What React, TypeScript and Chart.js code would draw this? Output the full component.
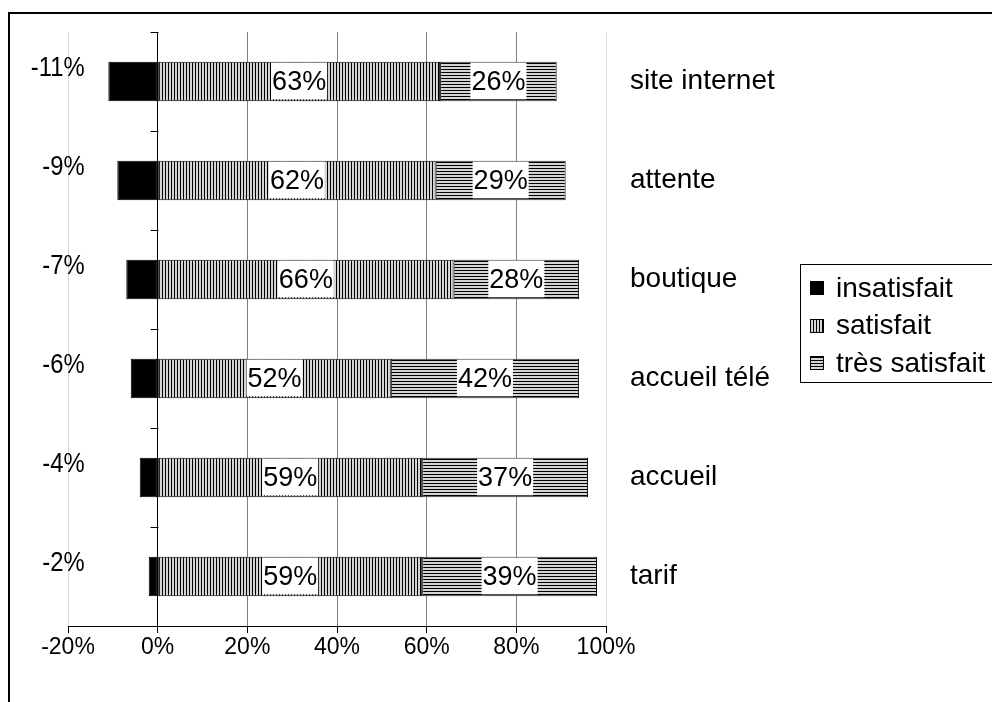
import React, { useEffect, useRef } from "react";
import { Chart, registerables } from "chart.js";
Chart.register(...registerables);

const categories = ["site internet", "attente", "boutique", "accueil télé", "accueil", "tarif"];
const insatisfait = [-11, -9, -7, -6, -4, -2];
const satisfait = [63, 62, 66, 52, 59, 59];
const tresSatisfait = [26, 29, 28, 42, 37, 39];
const seriesNames = ["insatisfait", "satisfait", "très satisfait"];
const xTicks = [-20, 0, 20, 40, 60, 80, 100];

const FONT = "'Liberation Sans', Arial, sans-serif";

function makePattern(dir: "v" | "h"): CanvasPattern {
  const c = document.createElement("canvas");
  c.width = 3;
  c.height = 3;
  const g = c.getContext("2d")!;
  g.fillStyle = "#d4d4d4";
  g.fillRect(0, 0, 3, 3);
  g.fillStyle = "#000";
  if (dir === "v") g.fillRect(0, 0, 1, 3);
  else g.fillRect(0, 0, 3, 1);
  return g.createPattern(c, "repeat")!;
}

export default function App() {
  const ref = useRef<HTMLCanvasElement | null>(null);
  useEffect(() => {
    document.body.style.margin = "0";
    const canvas = ref.current!;
    const vPat = makePattern("v");
    const hPat = makePattern("h");
    const fills: (string | CanvasPattern)[] = ["#000", vPat, hPat];

    const overlay = {
      id: "overlay",
      afterDatasetsDraw(chart: any) {
        const ctx = chart.ctx as CanvasRenderingContext2D;
        const xs = chart.scales.x;
        const ys = chart.scales.y;
        ctx.save();
        // tick marks on the 0% axis at category boundaries
        const x0 = Math.round(xs.getPixelForValue(0)) + 0.5;
        ctx.strokeStyle = "#000";
        ctx.lineWidth = 1;
        for (let i = 0; i <= categories.length; i++) {
          const yy = Math.round(ys.getPixelForValue(i - 0.5)) + 0.5;
          ctx.beginPath();
          ctx.moveTo(x0 - 8, yy);
          ctx.lineTo(x0, yy);
          ctx.stroke();
        }
        // labels inside satisfait / très satisfait
        ctx.textAlign = "center";
        ctx.textBaseline = "middle";
        ctx.font = `27px ${FONT}`;
        [1, 2].forEach((di) => {
          const vals = di === 1 ? satisfait : tresSatisfait;
          chart.getDatasetMeta(di).data.forEach((bar: any, i: number) => {
            const p = bar.getProps(["x", "y", "base", "height"], true);
            const cx = (p.x + p.base) / 2;
            const t = vals[i] + "%";
            const w = ctx.measureText(t).width;
            ctx.fillStyle = "#fff";
            ctx.fillRect(cx - w / 2 - 1, p.y - p.height / 2 + 1, w + 2, p.height - 3);
            ctx.fillStyle = "#000";
            ctx.fillText(t, cx, p.y + 1);
          });
        });
        // negative labels (slightly condensed)
        ctx.textAlign = "right";
        ctx.font = `28px ${FONT}`;
        const xr = xs.getPixelForValue(-16.3);
        chart.getDatasetMeta(0).data.forEach((bar: any, i: number) => {
          ctx.save();
          ctx.translate(xr, bar.y - 13);
          ctx.scale(0.85, 1);
          ctx.fillText(insatisfait[i] + "%", 0, 0);
          ctx.restore();
        });
        // legend
        ctx.lineWidth = 1;
        ctx.strokeStyle = "#000";
        ctx.strokeRect(800.5, 264.5, 300, 118);
        ctx.textAlign = "left";
        ctx.font = `28px ${FONT}`;
        seriesNames.forEach((n, i) => {
          const cy = 288 + i * 37.5;
          ctx.fillStyle = fills[i] as any;
          ctx.fillRect(810, Math.round(cy - 7), 14, 14);
          ctx.strokeRect(810.5, Math.round(cy - 7) + 0.5, 13, 13);
          ctx.fillStyle = "#000";
          ctx.fillText(n, 836, cy + 1);
        });
        // outer border
        ctx.lineWidth = 2;
        ctx.strokeRect(9, 13, 1000, 1000);
        ctx.restore();
      },
    };

    const chart = new Chart(canvas, {
      type: "bar",
      data: {
        labels: categories,
        datasets: [insatisfait, satisfait, tresSatisfait].map((d, i) => ({
          label: seriesNames[i],
          data: d,
          backgroundColor: fills[i] as any,
          borderColor: "#000",
          borderWidth: 1,
          borderSkipped: false,
          categoryPercentage: 0.4,
          barPercentage: 1,
        })),
      },
      options: {
        indexAxis: "y",
        responsive: false,
        animation: false,
        devicePixelRatio: 1,
        layout: { padding: { left: 68, top: 32, right: 0, bottom: 0 } },
        scales: {
          x: {
            stacked: true,
            min: -20,
            max: 100,
            afterBuildTicks: (s: any) => {
              s.ticks = xTicks.map((v) => ({ value: v }));
            },
            afterFit: (s: any) => {
              s.height = 76;
              s.paddingLeft = 0;
              s.paddingRight = 0;
            },
            ticks: {
              callback: (v: any) => v + "%",
              font: { size: 23, family: FONT },
              color: "#000",
              padding: 1,
              maxRotation: 0,
              autoSkip: false,
            },
            grid: {
              color: (c: any) =>
                c.tick && c.tick.value === 0
                  ? "#000"
                  : c.tick && (c.tick.value === -20 || c.tick.value === 100)
                  ? "#d9d9d9"
                  : "#808080",
              tickColor: "#000",
              tickLength: 7,
              lineWidth: 1,
            },
            border: { color: "#000", width: 1 },
          },
          y: {
            stacked: true,
            position: "right",
            grid: { display: false },
            border: { display: false },
            ticks: { font: { size: 28, family: FONT }, color: "#000", padding: 16 },
            afterFit: (s: any) => {
              s.width = 386;
              s.paddingTop = 0;
              s.paddingBottom = 0;
            },
          },
        },
        plugins: { legend: { display: false }, tooltip: { enabled: false } },
      },
      plugins: [overlay],
    });
    return () => chart.destroy();
  }, []);
  return (
    <div style={{ width: 992, height: 702 }}>
      <canvas ref={ref} width={992} height={702} style={{ display: "block" }} />
    </div>
  );
}
